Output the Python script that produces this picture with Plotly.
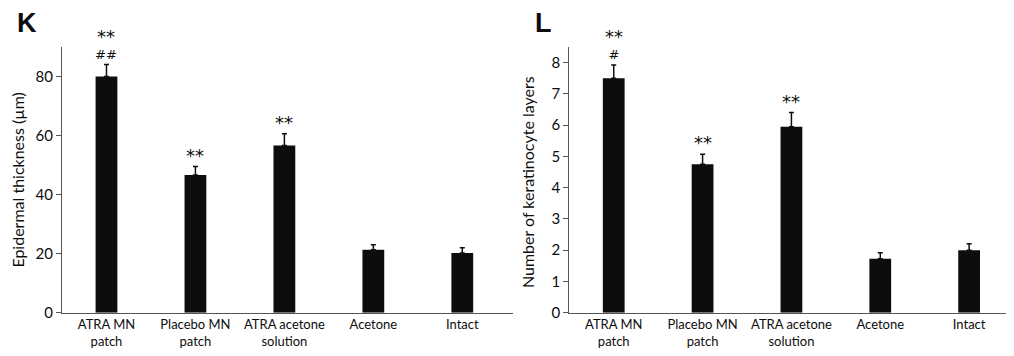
import plotly.graph_objects as go

categories = ["ATRA MN<br>patch", "Placebo MN<br>patch", "ATRA acetone<br>solution", "Acetone", "Intact"]
thickness = [80.0, 46.6, 56.6, 21.3, 20.2]
thickness_err = [4.0, 2.9, 4.0, 1.7, 1.8]
thickness_stars = ["**", "**", "**", "", ""]
thickness_hash = ["##", "", "", "", ""]

layers = [7.5, 4.75, 5.95, 1.73, 2.0]
layers_err = [0.42, 0.32, 0.45, 0.19, 0.21]
layers_stars = ["**", "**", "**", "", ""]
layers_hash = ["#", "", "", "", ""]

FONT = "Lato, 'Open Sans', sans-serif"
MARKFONT = "DejaVu Sans, sans-serif"
ink = "#0d0d0d"
W, H = 1014, 356
OFF = 8      # page body margin offset
KY = 0.978   # observed vertical scale of the photographed page


def px(x):
    return (x - OFF) / W


def py(y):
    return 1 - ((y - 7.8) / KY) / H


fig = go.Figure()
x_idx = list(range(len(categories)))

fig.add_trace(go.Bar(
    x=x_idx, y=thickness, width=0.245, marker=dict(color=ink, line=dict(width=0)),
    error_y=dict(type="data", symmetric=False, array=thickness_err, arrayminus=[0] * 5,
                 color=ink, thickness=1.5, width=2.5),
    xaxis="x", yaxis="y", showlegend=False))
fig.add_trace(go.Bar(
    x=x_idx, y=layers, width=0.245, marker=dict(color=ink, line=dict(width=0)),
    error_y=dict(type="data", symmetric=False, array=layers_err, arrayminus=[0] * 5,
                 color=ink, thickness=1.5, width=2.5),
    xaxis="x2", yaxis="y2", showlegend=False))

annotations = []


def add_marks(values, errs, stars, hashes, xref, yref):
    for i, (v, e, s, h) in enumerate(zip(values, errs, stars, hashes)):
        top = v + e
        if h:
            text = ("<span style='font-size:18px'>%s</span><br>"
                    "<span style='font-size:13px'>%s</span>") % (s, h)
            annotations.append(dict(x=i, y=top, xref=xref, yref=yref, text=text, showarrow=False,
                                    yanchor="bottom", yshift=1,
                                    font=dict(family=MARKFONT, size=12, color=ink)))
        elif s:
            annotations.append(dict(x=i, y=top, xref=xref, yref=yref, text=s, showarrow=False,
                                    yanchor="bottom", yshift=-1,
                                    font=dict(family=MARKFONT, size=18, color=ink)))


add_marks(thickness, thickness_err, thickness_stars, thickness_hash, "x", "y")
add_marks(layers, layers_err, layers_stars, layers_hash, "x2", "y2")

annotations += [
    dict(x=px(15), y=1.0, xref="paper", yref="paper", text="<b>K</b>", showarrow=False,
         xanchor="left", yanchor="top", yshift=2,
         font=dict(family="Liberation Sans, Arial", size=27, color=ink)),
    dict(x=px(533), y=1.0, xref="paper", yref="paper", text="<b>L</b>", showarrow=False,
         xanchor="left", yanchor="top", yshift=2,
         font=dict(family="Liberation Sans, Arial", size=27, color=ink)),
    dict(x=px(17.5), y=py(180), xref="paper", yref="paper", text="Epidermal thickness (µm)",
         showarrow=False, textangle=-90, xanchor="center", yanchor="middle",
         font=dict(family=FONT, size=16, color=ink)),
    dict(x=px(527.5), y=py(182.5), xref="paper", yref="paper", text="Number of keratinocyte layers",
         showarrow=False, textangle=-90, xanchor="center", yanchor="middle",
         font=dict(family=FONT, size=16, color=ink)),
]

y_dom = [py(312.7), py(46.7)]
axis_common = dict(showline=True, linecolor="#555555", linewidth=1, showgrid=False, zeroline=False,
                   tickfont=dict(family=FONT, size=15, color=ink))
x_common = dict(axis_common, tickmode="array", tickvals=x_idx, ticktext=categories, ticks="",
                tickfont=dict(family=FONT, size=13, color=ink))

fig.update_layout(
    width=W, height=H, margin=dict(l=0, r=0, t=0, b=0),
    paper_bgcolor="white", plot_bgcolor="white",
    xaxis=dict(x_common, domain=[px(62), px(513)], range=[-0.5, 4.57], anchor="y"),
    yaxis=dict(axis_common, domain=y_dom, range=[0, 90], tickvals=[0, 20, 40, 60, 80],
               ticks="outside", ticklen=5, tickcolor="#555555", anchor="x"),
    xaxis2=dict(x_common, domain=[px(569.3), px(1010)], range=[-0.5, 4.46], anchor="y2"),
    yaxis2=dict(axis_common, domain=y_dom, range=[0, 8.5], tickvals=list(range(9)),
                ticks="outside", ticklen=5, tickcolor="#555555", anchor="x2"),
    annotations=annotations,
)

fig.write_html("out.html")
